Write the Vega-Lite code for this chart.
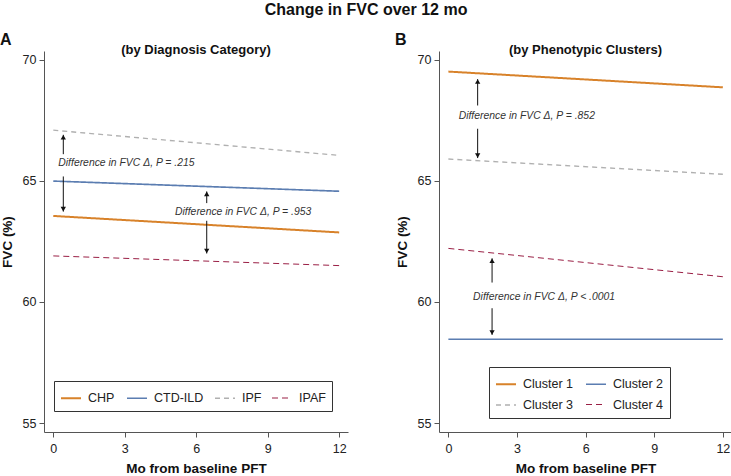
{
  "$schema": "https://vega.github.io/schema/vega-lite/v6.json",
  "background": "white",
  "padding": {"left": 0, "top": 2, "right": 0, "bottom": 0},
  "title": {"text": "Change in FVC over 12 mo", "fontSize": 16, "font": "Liberation Sans", "fontWeight": "bold", "anchor": "middle", "color": "#111", "offset": 14},
  "config": {
    "view": {"stroke": null},
    "axis": {"domainColor": "#555", "tickColor": "#555", "tickSize": 5, "labelFont": "Liberation Sans", "labelFontSize": 12.5, "labelColor": "#222", "titleFont": "Liberation Sans", "titleFontSize": 13.5, "titleFontWeight": "bold", "titleColor": "#111", "grid": false, "labelPadding": 3},
    "axisX": {"labelPadding": 5, "titlePadding": 7, "labelFlush": false},
    "axisY": {"titlePadding": 8},
    "title": {"font": "Liberation Sans", "color": "#111", "fontWeight": "bold"},
    "legend": {"labelFont": "Liberation Sans", "labelFontSize": 12.5, "labelColor": "#222", "symbolType": "stroke", "symbolSize": 400, "strokeColor": "#333", "fillColor": "white", "padding": 6, "labelOffset": 6, "columnPadding": 8, "rowPadding": 3}
  },
  "datasets": {
    "linesA": [
      {"group": "CHP", "month": 0, "fvc": 63.55}, {"group": "CHP", "month": 12, "fvc": 62.87},
      {"group": "CTD-ILD", "month": 0, "fvc": 64.99}, {"group": "CTD-ILD", "month": 12, "fvc": 64.57},
      {"group": "IPF", "month": 0, "fvc": 67.09}, {"group": "IPF", "month": 12, "fvc": 66.05},
      {"group": "IPAF", "month": 0, "fvc": 61.9}, {"group": "IPAF", "month": 12, "fvc": 61.5}
    ],
    "linesB": [
      {"group": "Cluster 1", "month": 0, "fvc": 69.51}, {"group": "Cluster 1", "month": 12, "fvc": 68.86},
      {"group": "Cluster 2", "month": 0, "fvc": 58.46}, {"group": "Cluster 2", "month": 12, "fvc": 58.46},
      {"group": "Cluster 3", "month": 0, "fvc": 65.9}, {"group": "Cluster 3", "month": 12, "fvc": 65.27},
      {"group": "Cluster 4", "month": 0, "fvc": 62.21}, {"group": "Cluster 4", "month": 12, "fvc": 61.04}
    ],
    "shaftsA": [
      {"month": 0.42, "y1": 66.1, "y2": 66.9},
      {"month": 0.42, "y1": 65.18, "y2": 63.73},
      {"month": 6.44, "y1": 64.08, "y2": 64.56},
      {"month": 6.44, "y1": 63.35, "y2": 62.0}
    ],
    "headsA": [
      {"month": 0.42, "fvc": 66.8, "dir": "up"},
      {"month": 0.42, "fvc": 63.83, "dir": "down"},
      {"month": 6.44, "fvc": 64.46, "dir": "up"},
      {"month": 6.44, "fvc": 62.1, "dir": "down"}
    ],
    "notesA": [
      {"month": 0.21, "fvc": 65.73, "label": "Difference in FVC Δ, P = .215"},
      {"month": 5.11, "fvc": 63.72, "label": "Difference in FVC Δ, P = .953"}
    ],
    "shaftsB": [
      {"month": 1.28, "y1": 68.11, "y2": 69.2},
      {"month": 1.28, "y1": 67.15, "y2": 65.94},
      {"month": 1.91, "y1": 60.8, "y2": 61.8},
      {"month": 1.91, "y1": 59.74, "y2": 58.64}
    ],
    "headsB": [
      {"month": 1.28, "fvc": 69.1, "dir": "up"},
      {"month": 1.28, "fvc": 66.04, "dir": "down"},
      {"month": 1.91, "fvc": 61.7, "dir": "up"},
      {"month": 1.91, "fvc": 58.74, "dir": "down"}
    ],
    "notesB": [
      {"month": 0.45, "fvc": 67.66, "label": "Difference in FVC Δ, P = .852"},
      {"month": 1.08, "fvc": 60.22, "label": "Difference in FVC Δ, P < .0001"}
    ]
  },
  "spacing": 47,
  "resolve": {"scale": {"color": "independent", "strokeDash": "independent", "strokeWidth": "independent", "shape": "independent", "x": "independent", "y": "independent"}},
  "hconcat": [
    {
      "title": {"text": "A", "anchor": "start", "frame": "bounds", "fontSize": 16, "offset": -4},
      "vconcat": [
        {
          "width": 304,
          "height": 381,
          "title": {"text": "(by Diagnosis Category)", "fontSize": 13, "anchor": "middle", "offset": -6},
          "layer": [
            {
              "data": {"name": "linesA"},
              "mark": {"type": "line"},
              "encoding": {
                "x": {"field": "month", "type": "quantitative", "scale": {"domain": [-0.39, 12.37], "nice": false, "zero": false}, "axis": {"values": [0, 3, 6, 9, 12], "title": "Mo from baseline PFT"}},
                "y": {"field": "fvc", "type": "quantitative", "scale": {"domain": [54.63, 70.36], "nice": false, "zero": false}, "axis": {"values": [55, 60, 65, 70], "title": "FVC (%)"}},
                "color": {"field": "group", "type": "nominal", "scale": {"domain": ["CHP", "CTD-ILD", "IPF", "IPAF"], "range": ["#D8822A", "#5B7DB1", "#B0B0B0", "#9A1F45"]}, "legend": {"title": null, "orient": "none", "legendX": 10, "legendY": 330, "direction": "horizontal", "columns": 4}},
                "strokeDash": {"field": "group", "type": "nominal", "scale": {"domain": ["CHP", "CTD-ILD", "IPF", "IPAF"], "range": [[1, 0], [1, 0], [5, 4], [6, 4]]}, "legend": {"title": null, "orient": "none", "legendX": 10, "legendY": 330, "direction": "horizontal", "columns": 4}},
                "strokeWidth": {"field": "group", "type": "ordinal", "scale": {"domain": ["CHP", "CTD-ILD", "IPF", "IPAF"], "range": [2, 1, 1, 2.2]}, "legend": {"title": null, "orient": "none", "legendX": 10, "legendY": 330, "direction": "horizontal", "columns": 4}}
              }
            },
            {
              "data": {"name": "shaftsA"},
              "mark": {"type": "rule", "color": "#111", "strokeWidth": 1},
              "encoding": {"x": {"field": "month", "type": "quantitative"}, "y": {"field": "y1", "type": "quantitative"}, "y2": {"field": "y2"}}
            },
            {
              "data": {"name": "headsA"},
              "mark": {"type": "point", "filled": true, "color": "#111", "size": 28, "opacity": 1},
              "encoding": {"x": {"field": "month", "type": "quantitative"}, "y": {"field": "fvc", "type": "quantitative"}, "shape": {"field": "dir", "type": "nominal", "scale": {"domain": ["up", "down"], "range": ["triangle-up", "triangle-down"]}, "legend": null}}
            },
            {
              "data": {"name": "notesA"},
              "mark": {"type": "text", "align": "left", "baseline": "middle", "fontStyle": "italic", "fontSize": 10.4, "font": "Liberation Sans", "color": "#333"},
              "encoding": {"x": {"field": "month", "type": "quantitative"}, "y": {"field": "fvc", "type": "quantitative"}, "text": {"field": "label"}}
            }
          ]
        }
      ]
    },
    {
      "title": {"text": "B", "anchor": "start", "frame": "bounds", "fontSize": 16, "offset": -4},
      "vconcat": [
        {
          "width": 293,
          "height": 381,
          "title": {"text": "(by Phenotypic Clusters)", "fontSize": 13, "anchor": "middle", "offset": -6},
          "layer": [
            {
              "data": {"name": "linesB"},
              "mark": {"type": "line"},
              "encoding": {
                "x": {"field": "month", "type": "quantitative", "scale": {"domain": [-0.41, 12.4], "nice": false, "zero": false}, "axis": {"values": [0, 3, 6, 9, 12], "title": "Mo from baseline PFT"}},
                "y": {"field": "fvc", "type": "quantitative", "scale": {"domain": [54.63, 70.36], "nice": false, "zero": false}, "axis": {"values": [55, 60, 65, 70], "title": "FVC (%)"}},
                "color": {"field": "group", "type": "nominal", "scale": {"domain": ["Cluster 1", "Cluster 2", "Cluster 3", "Cluster 4"], "range": ["#D8822A", "#5B7DB1", "#B0B0B0", "#9A1F45"]}, "legend": {"title": null, "orient": "none", "legendX": 50, "legendY": 316, "direction": "horizontal", "columns": 2}},
                "strokeDash": {"field": "group", "type": "nominal", "scale": {"domain": ["Cluster 1", "Cluster 2", "Cluster 3", "Cluster 4"], "range": [[1, 0], [1, 0], [5, 4], [6, 4]]}, "legend": {"title": null, "orient": "none", "legendX": 50, "legendY": 316, "direction": "horizontal", "columns": 2}},
                "strokeWidth": {"field": "group", "type": "ordinal", "scale": {"domain": ["Cluster 1", "Cluster 2", "Cluster 3", "Cluster 4"], "range": [2, 1, 1, 2.2]}, "legend": {"title": null, "orient": "none", "legendX": 50, "legendY": 316, "direction": "horizontal", "columns": 2}}
              }
            },
            {
              "data": {"name": "shaftsB"},
              "mark": {"type": "rule", "color": "#111", "strokeWidth": 1},
              "encoding": {"x": {"field": "month", "type": "quantitative"}, "y": {"field": "y1", "type": "quantitative"}, "y2": {"field": "y2"}}
            },
            {
              "data": {"name": "headsB"},
              "mark": {"type": "point", "filled": true, "color": "#111", "size": 28, "opacity": 1},
              "encoding": {"x": {"field": "month", "type": "quantitative"}, "y": {"field": "fvc", "type": "quantitative"}, "shape": {"field": "dir", "type": "nominal", "scale": {"domain": ["up", "down"], "range": ["triangle-up", "triangle-down"]}, "legend": null}}
            },
            {
              "data": {"name": "notesB"},
              "mark": {"type": "text", "align": "left", "baseline": "middle", "fontStyle": "italic", "fontSize": 10.4, "font": "Liberation Sans", "color": "#333"},
              "encoding": {"x": {"field": "month", "type": "quantitative"}, "y": {"field": "fvc", "type": "quantitative"}, "text": {"field": "label"}}
            }
          ]
        }
      ]
    }
  ]
}
